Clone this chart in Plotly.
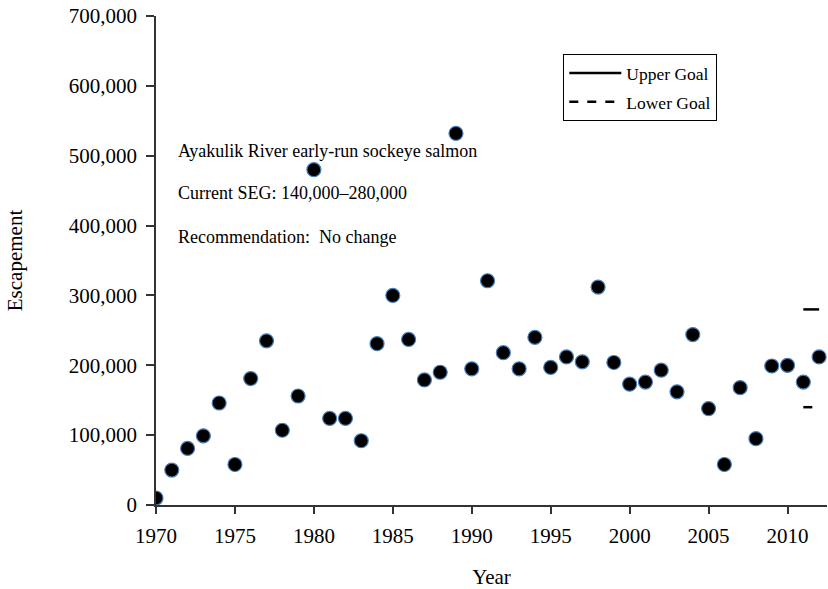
import plotly.graph_objects as go

years = list(range(1970, 2013))
escapement = [10000, 50000, 81000, 99000, 146000, 58000, 181000, 235000, 107000, 156000,
              480000, 124000, 124000, 92000, 231000, 300000, 237000, 179000, 190000, 532000,
              195000, 321000, 218000, 195000, 240000, 197000, 212000, 205000, 312000, 204000,
              173000, 176000, 193000, 162000, 244000, 138000, 58000, 168000, 95000, 199000,
              200000, 176000, 212000]

goal_years = [2011, 2012]
upper_goal = [280000, 280000]
lower_goal = [140000, 140000]

font_family = "Liberation Serif, Times New Roman, serif"

fig = go.Figure()
fig.add_trace(go.Scatter(
    x=years, y=escapement, mode="markers", showlegend=False,
    marker=dict(size=14, color="black", line=dict(color="#4a7ebb", width=1.2)),
))
fig.add_trace(go.Scatter(
    x=goal_years, y=upper_goal, mode="lines", name="Upper Goal", legendgroup="u",
    line=dict(color="black", width=2.5),
))
fig.add_trace(go.Scatter(
    x=goal_years, y=lower_goal, mode="lines", name="Lower Goal", legendgroup="l",
    line=dict(color="black", width=2.5, dash="dash"),
))

ann_texts = ["Ayakulik River early-run sockeye salmon",
             "Current SEG: 140,000\u2013280,000",
             "Recommendation:  No change"]
ann_y = [0.724, 0.638, 0.549]
for t, yy in zip(ann_texts, ann_y):
    fig.add_annotation(text=t, xref="paper", yref="paper", x=0.030, y=yy,
                       xanchor="left", yanchor="middle", showarrow=False,
                       font=dict(family=font_family, size=18, color="black"))

fig.update_layout(
    width=828, height=589,
    margin=dict(l=156, r=1, t=16, b=84),
    paper_bgcolor="white", plot_bgcolor="white",
    font=dict(family=font_family, color="black", size=19),
    legend=dict(x=0.607, y=0.922, xanchor="left", yanchor="top",
                bordercolor="black", borderwidth=1, bgcolor="white",
                font=dict(family=font_family, size=17.5, color="black"),
                tracegroupgap=3, itemwidth=52),
    xaxis=dict(range=[1970, 2012.5], tickmode="array",
               tickvals=list(range(1970, 2011, 5)),
               ticks="outside", ticklen=7, tickcolor="#333", tickwidth=1.5,
               showline=True, linecolor="#333", linewidth=1.5,
               showgrid=False, zeroline=False, ticklabelstandoff=4,
               title=dict(text="Year", font=dict(size=21), standoff=22),
               tickfont=dict(size=21)),
    yaxis=dict(range=[0, 700000], tickmode="array",
               tickvals=list(range(0, 700001, 100000)),
               tickformat=",d",
               ticks="outside", ticklen=8, tickcolor="#333", tickwidth=1.5,
               showline=True, linecolor="#333", linewidth=1.5,
               showgrid=False, zeroline=False, ticklabelstandoff=5,
               title=dict(text="Escapement", font=dict(size=21), standoff=40),
               tickfont=dict(size=21)),
)

fig.write_html("out.html")
